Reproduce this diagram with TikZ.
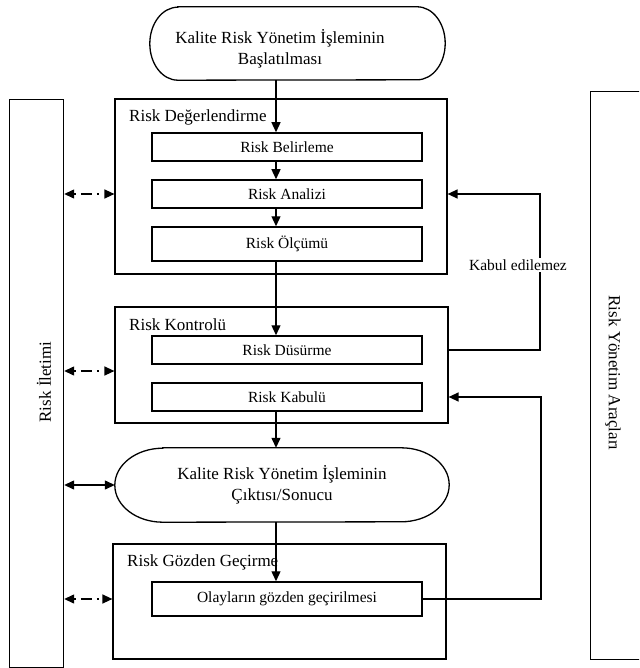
\documentclass[tikz,border=0pt]{standalone}
\usepackage{fontspec}
\setmainfont{Liberation Serif}
\usetikzlibrary{arrows.meta,calc}

\begin{document}
\begin{tikzpicture}[x=1pt,y=-1pt,
  grp/.style={draw, rectangle, line width=1.2pt, inner sep=0pt},
  inbox/.style={draw, rectangle, line width=1.5pt, minimum width=270pt, inner sep=0pt,
    font=\fontsize{15.5}{18}\selectfont},
  lbl/.style={anchor=base west, inner sep=0pt, font=\fontsize{17}{20}\selectfont},
  ovaltxt/.style={align=center, font=\fontsize{17}{21}\selectfont},
  arr/.style={-{Triangle[length=10pt,width=9pt]}, line width=1.3pt},
  barr/.style={{Triangle[length=10pt,width=9pt]}-{Triangle[length=10pt,width=9pt]}, line width=1.3pt},
  darr/.style={barr, dash pattern=on 2pt off 5pt on 11pt off 5pt on 2pt off 30pt}]

\useasboundingbox (0,0) rectangle (639,668);
\begin{scope}
\clip (0,0) rectangle (639,668);

% side boxes
\node[grp, minimum width=54pt, minimum height=568pt, anchor=north west] (comm) at (9,99) {};
\node[rotate=90, font=\fontsize{17}{20}\selectfont] (commtxt) at (44,382) {Risk İletimi};
\node[grp, minimum width=120pt, minimum height=568pt, anchor=north west] (tools) at (590,91) {};
\node[rotate=-90, font=\fontsize{17}{20}\selectfont] (toolstxt) at (613,373) {Risk Yönetim Araçları};

% start oval
\node[minimum width=295pt, minimum height=73pt, inner sep=0pt] (start) at (297.5,43.5) {};
\draw[line width=1.3pt] ($(start.north west)+(28,0)$) -- ($(start.north east)+(-28,0)$)
  arc[start angle=90, end angle=-90, x radius=28pt, y radius=36.5pt]
  -- ($(start.south west)+(28,0)$)
  arc[start angle=270, end angle=90, x radius=28pt, y radius=36.5pt] -- cycle;
\node[ovaltxt] (starttxt) at (280,48.5) {Kalite Risk Yönetim İşleminin\\Başlatılması};

% Risk Degerlendirme
\node[grp, minimum width=332pt, minimum height=175pt] (rdeg) at (281,186.5) {};
\node[lbl] (rdeglbl) at (129,122) {Risk Değerlendirme};
\node[inbox, minimum height=28pt] (rbel) at (287,147) {Risk Belirleme};
\node[inbox, minimum height=28pt] (ran) at (287,194) {Risk Analizi};
\node[inbox, minimum height=34pt] (rolc) at (287,244) {Risk Ölçümü};

% Risk Kontrolu
\node[grp, minimum width=333pt, minimum height=116pt] (rk) at (281.5,365) {};
\node[lbl] (rklbl) at (129,330) {Risk Kontrolü};
\node[inbox, minimum height=28pt] (rdus) at (287,350) {Risk Düsürme};
\node[inbox, minimum height=28pt] (rkab) at (287,397) {Risk Kabulü};

% output oval
\node[minimum width=334pt, minimum height=74pt, inner sep=0pt, ovaltxt] (out) at (282,485) {Kalite Risk Yönetim İşleminin\\Çıktısı/Sonucu};
\draw[line width=1.3pt] ($(out.north west)+(48,0)$) -- ($(out.north east)+(-48,0)$)
  arc[start angle=90, end angle=-90, x radius=48pt, y radius=37pt]
  -- ($(out.south west)+(48,0)$)
  arc[start angle=270, end angle=90, x radius=48pt, y radius=37pt] -- cycle;

% Risk Gozden Gecirme
\node[grp, minimum width=333pt, minimum height=115pt] (rg) at (279.5,601.5) {};
\node[lbl] (rglbl) at (127,566) {Risk Gözden Geçirme};
\node[inbox, minimum height=34pt] (olay) at (287,599) {Olayların gözden geçirilmesi};

% main flow
\coordinate (ax) at (276,0);
\draw[arr] (start.south -| ax) -- (rbel.north -| ax);
\draw[arr] (rbel.south -| ax) -- (ran.north -| ax);
\draw[arr] (ran.south -| ax) -- (rolc.north -| ax);
\draw[arr] (rolc.south -| ax) -- (rdus.north -| ax);
\draw[arr] (rkab.south -| ax) -- (out.north -| ax);
\draw[arr] (out.south -| ax) -- (olay.north -| ax);

% feedback loops
\coordinate (fbx) at (540,0);
\coordinate (fby) at (541,0);
\draw[arr] (rdus -| rk.east) -- (rdus -| fbx) -- (ran -| fbx) -- (ran -| rdeg.east);
\node[fill=white, inner sep=2pt, font=\fontsize{15.5}{18}\selectfont] (kabul) at (518,265) {Kabul edilemez};
\draw[arr] (olay.east) -- (olay -| fby) -- (rkab -| fby) -- (rkab -| rk.east);

% communication arrows
\coordinate (rkd) at ($(rk.west)+(0,6)$);
\draw[darr] (ran -| comm.east) -- (ran -| rdeg.west);
\draw[darr] (rkd -| comm.east) -- (rkd);
\draw[barr] (out.west -| comm.east) -- (out.west);
\draw[darr] (olay -| comm.east) -- (olay -| rg.west);
\end{scope}
\end{tikzpicture}
\end{document}
